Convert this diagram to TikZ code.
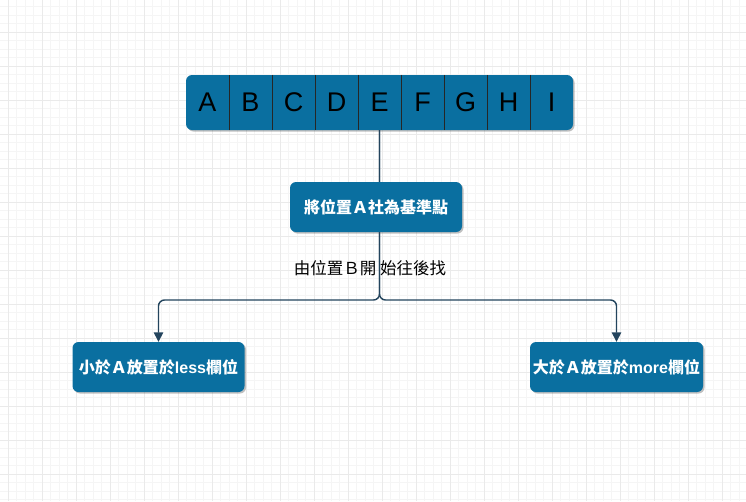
\documentclass[tikz,border=0pt]{standalone}
\usepackage{fontspec}
\setmainfont{Liberation Sans}
\newfontfamily\cjk{Noto Sans CJK TC}
\usetikzlibrary{arrows.meta,shadows}
\definecolor{boxblue}{HTML}{0A6FA0}
\definecolor{linenavy}{HTML}{23445D}
\definecolor{gridminor}{HTML}{F5F5F5}
\definecolor{gridmajor}{HTML}{EAEAEA}
\begin{document}
\begin{tikzpicture}[x=1pt,y=-1pt,
  bluebox/.style={fill=boxblue, rounded corners=6pt, draw=none,
    drop shadow={shadow xshift=1.5pt,shadow yshift=-1.5pt,opacity=0.35,fill=black!70},
    text=white, font=\bfseries\fontsize{16}{18}\selectfont, inner sep=0pt},
  cellbox/.style={minimum width=43pt, minimum height=55pt, inner sep=0pt,
    font=\fontsize{27}{30}\selectfont, text=black},
  divider/.style={draw=black!85, line width=0.8pt},
  conn/.style={draw=linenavy, line width=1.4pt, rounded corners=6pt,
    -{Triangle[width=9.5pt,length=9.5pt]}},
  trunk/.style={draw=linenavy, line width=1.4pt},
  lbl/.style={font=\cjk\fontsize{16.5}{18}\selectfont, text=black, inner sep=0pt}]
\useasboundingbox (0,0) rectangle (746,501);
\fill[white] (0,0) rectangle (746,501);
% grid
\foreach \k in {0,...,88} \draw[gridminor, line width=0.5pt] (-0.5+8.5*\k,0) -- (-0.5+8.5*\k,501);
\foreach \k in {0,...,59} \draw[gridminor, line width=0.5pt] (0,-2+8.5*\k) -- (746,-2+8.5*\k);
\foreach \k in {0,...,22} \draw[gridmajor, line width=0.6pt] (8+34*\k,0) -- (8+34*\k,501);
\foreach \k in {0,...,15} \draw[gridmajor, line width=0.6pt] (0,-2+34*\k) -- (746,-2+34*\k);

% top array
\node[bluebox, minimum width=387pt, minimum height=55pt] (row) at (379.5,102.5) {};
\foreach \l [count=\i] in {A,B,C,D,E,F,G,H,I}
  \node[cellbox] (c\i) at (186+43*\i-21.5,102.5) {\l};
\foreach \i in {1,...,8}
  \draw[divider] (c\i.north east) -- (c\i.south east);

% boxes and connectors
\coordinate (split) at (379.5,300);
\node[bluebox, minimum width=172pt, minimum height=50pt] (less) at (158.5,367) {{\cjk 小於Ａ放置於}less{\cjk 欄位}};
\node[bluebox, minimum width=173pt, minimum height=50pt] (more) at (616.5,367) {{\cjk 大於Ａ放置於}more{\cjk 欄位}};
\draw[conn] (row.south) -- (split) -| (less.north);
\draw[conn] (row.south) -- (split) -| (more.north);
\node[bluebox, minimum width=172pt, minimum height=50pt] (pivot) at (376,207) {\cjk 將位置Ａ社為基準點};

\node[lbl] (lab) at (370,268) {由位置Ｂ開 始往後找};
\end{tikzpicture}
\end{document}
